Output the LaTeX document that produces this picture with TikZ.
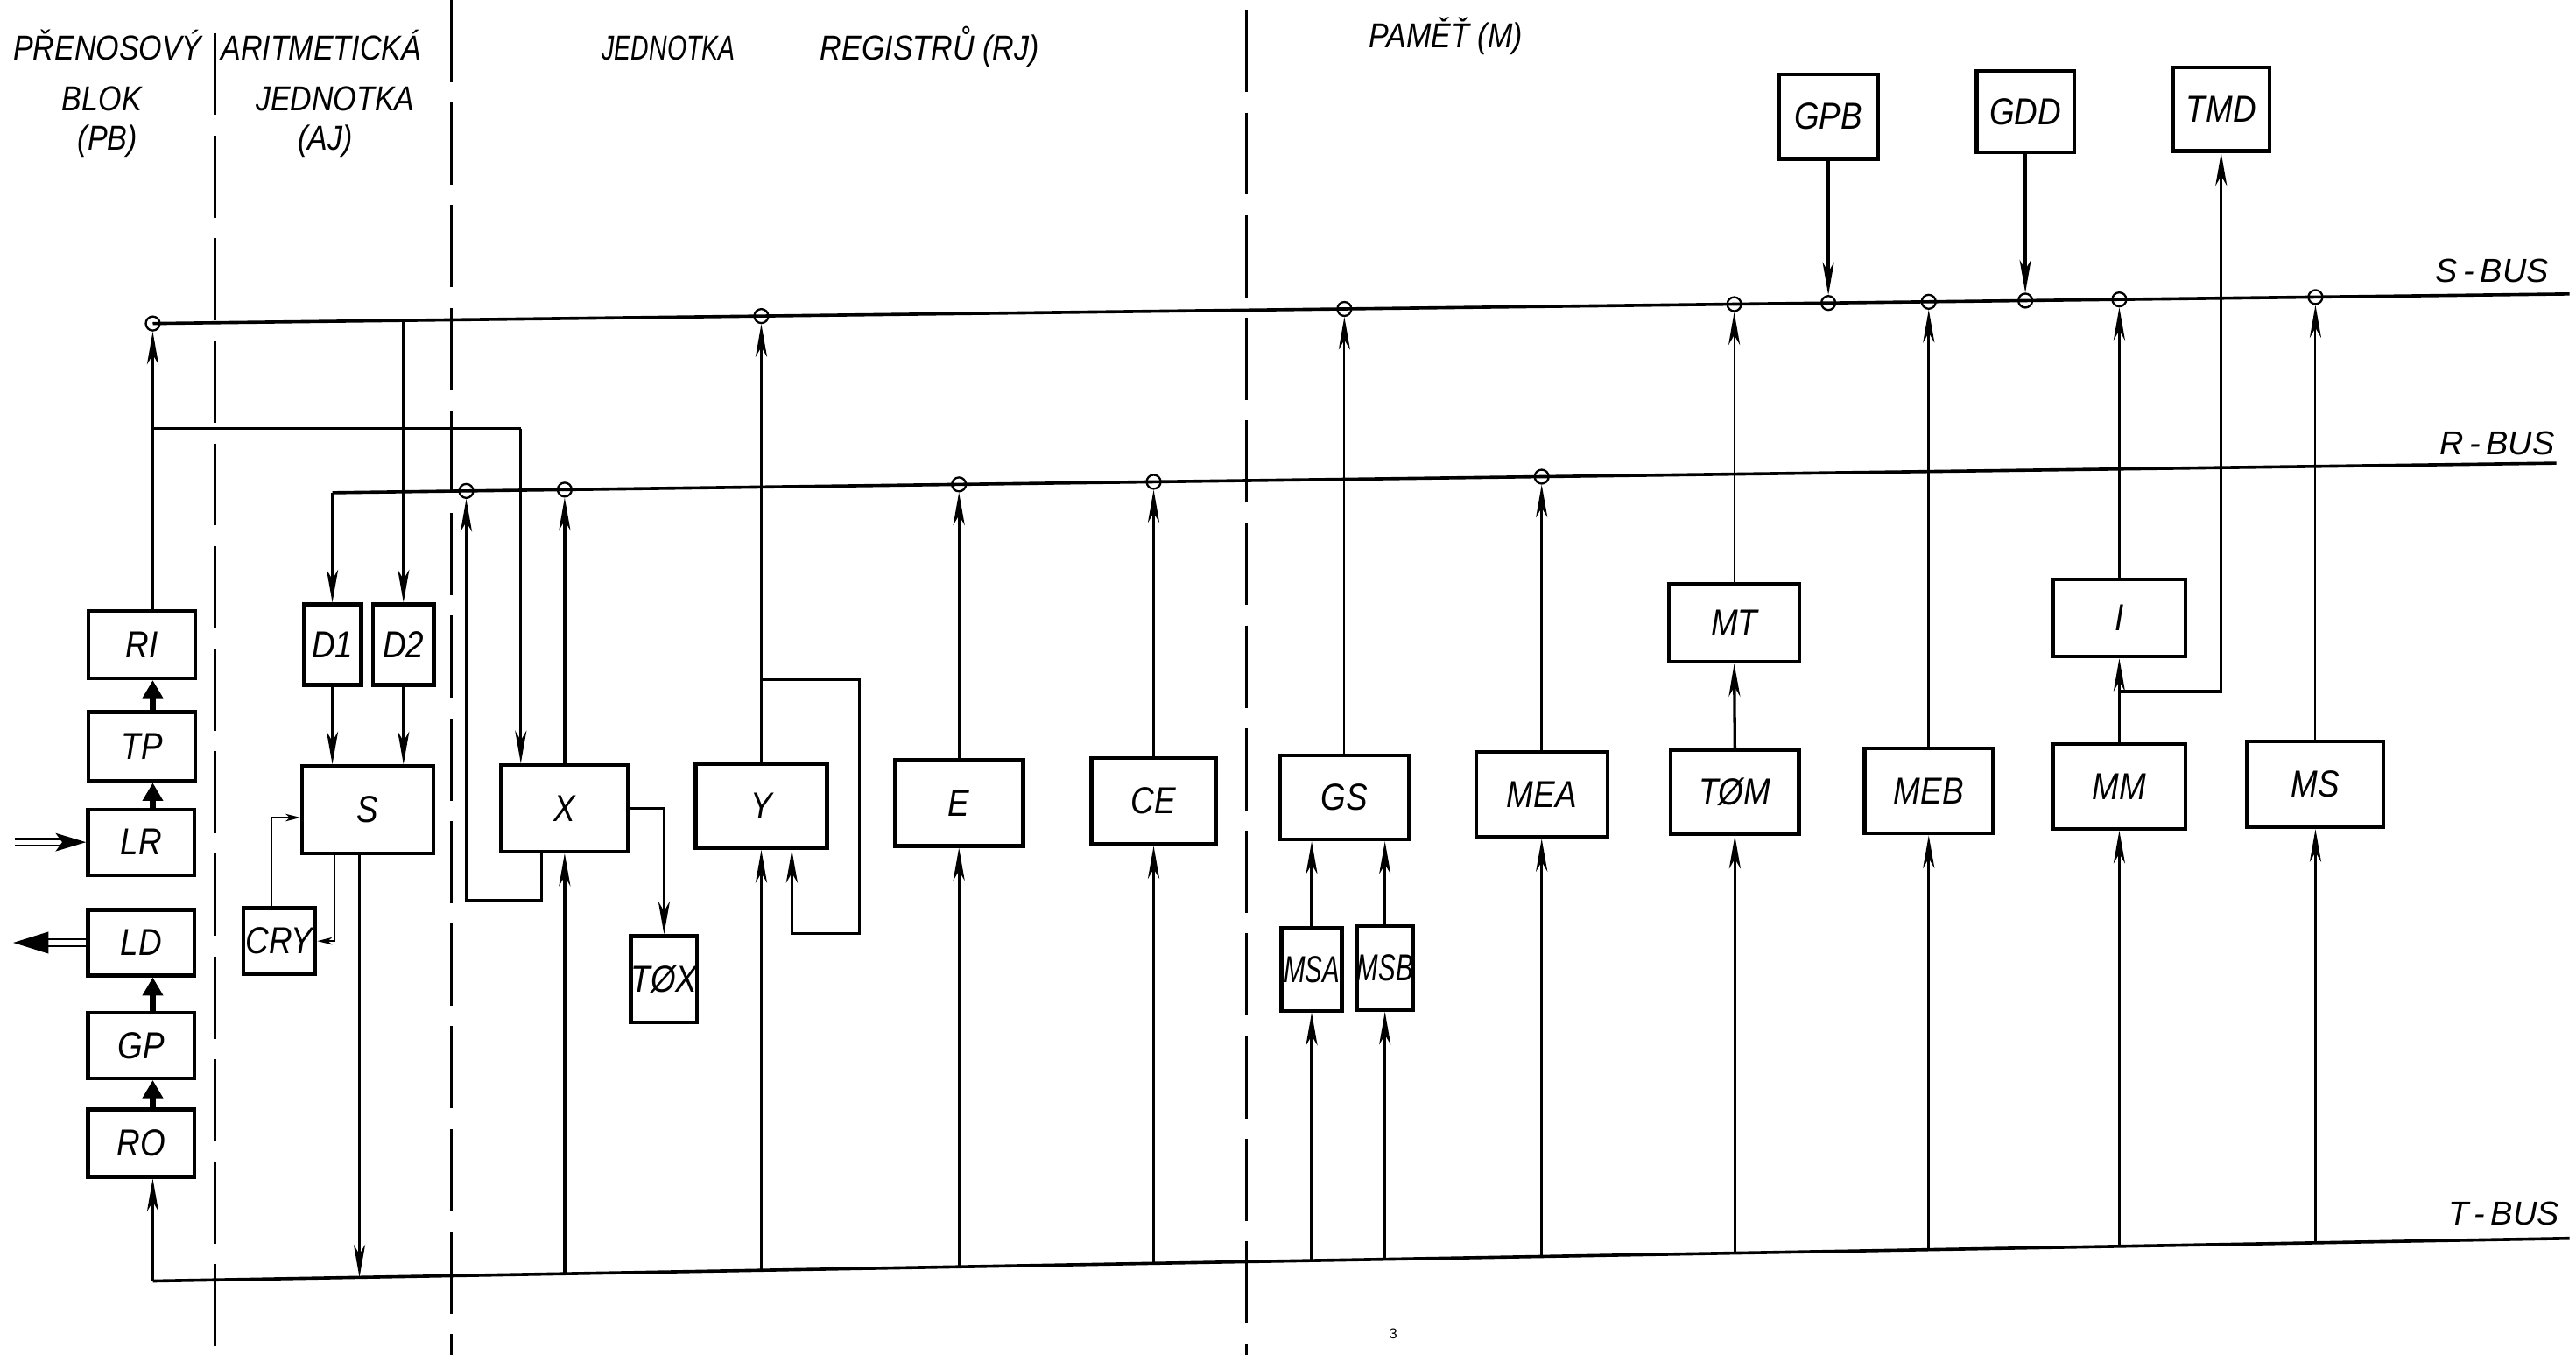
\documentclass[tikz,border=0pt]{standalone}
\usepackage{fontspec}
\setmainfont{Liberation Sans}
\newfontfamily\lblfont{Liberation Sans}[FakeStretch=0.86]
\newfontfamily\narrowfont{Liberation Sans}[FakeStretch=0.72]
\usetikzlibrary{arrows.meta,calc}
\newcommand{\onbus}[5]{\path let \p1=(#3), \p2=(#4), \p3=(#5) in (\x1,{(\y2)+((\x1)-(\x2))*(((\y3)-(\y2))/((\x3)-(\x2)))}) node[#1] (#2) {};}
\begin{document}
\begin{tikzpicture}[x=0.02cm,y=-0.02cm,
  bx/.style 2 args={draw, line width=1.3pt, inner sep=0pt, minimum width=#1*0.02cm, minimum height=#2*0.02cm, font=\lblfont\itshape\fontsize{13}{13}\selectfont},
  hdr/.style={anchor=base, inner sep=0pt, font=\lblfont\itshape\fontsize{12}{13}\selectfont},
  buslbl/.style={anchor=base, inner sep=0pt, font=\itshape\fontsize{11.5}{13}\selectfont},
  ln/.style={line width=1pt},
  arr/.style={line width=1pt, -{Stealth[length=0.4cm,width=0.14cm,inset=0.12cm]}},
  tarr/.style={line width=0.6pt, -{Stealth[length=0.4cm,width=0.14cm,inset=0.12cm]}},
  carr/.style={line width=0.6pt, -{Stealth[length=0.18cm,width=0.09cm,inset=0.05cm]}},
  bus/.style={line width=1.1pt},
  tap/.style={circle, draw, line width=0.7pt, minimum size=0.17cm, inner sep=0pt},
  sepl/.style={line width=0.9pt, dash pattern=on 1cm off 0.25cm},
  thk/.style={line width=2.2pt, -{Triangle[length=0.22cm,width=0.24cm]}},
  dblin/.style={double, double distance=1.6pt, line width=0.8pt, -{Stealth[length=0.37cm,width=0.22cm,inset=0.08cm]}},
  dblout/.style={double, double distance=1.6pt, line width=0.8pt, -{Triangle[length=0.43cm,width=0.26cm]}}
]
\fill[white] (0,0) rectangle (1568,825);
\useasboundingbox (0,0) rectangle (1568,825);

% ---------- headers ----------
\node[hdr] (h1) at (65.5,36.4) {PŘENOSOVÝ};
\node[hdr] (h2) at (62,67.5) {BLOK};
\node[hdr] (h3) at (65.5,91.5) {(PB)};
\node[hdr] (h4) at (195.5,36.4) {ARITMETICKÁ};
\node[hdr] (h5) at (204,67.5) {JEDNOTKA};
\node[hdr] (h6) at (198,91.5) {(AJ)};
\node[hdr, font=\narrowfont\itshape\fontsize{12}{13}\selectfont] (h7) at (407,36.4) {JEDNOTKA};
\node[hdr,anchor=base west] (h8) at (499,36.4) {REGISTRŮ\ (RJ)};
\node[hdr] (h9) at (880,29) {PAMĚŤ (M)};
\node[buslbl] (lbS) at (1517,172) {S\kern2pt-\kern2ptBUS};
\node[buslbl] (lbR) at (1520,277) {R\kern2pt-\kern2ptBUS};
\node[buslbl] (lbT) at (1524,746) {T\kern2pt-\kern2ptBUS};
\node[font=\fontsize{5}{5}\selectfont, inner sep=0pt] (pg) at (848,812) {3};

% ---------- separators ----------
\coordinate (d1a) at (131,20);   \coordinate (d1b) at (131,825);
\coordinate (d2a) at (274.7,0);  \coordinate (d2b) at (274.7,825);
\coordinate (d3a) at (758.5,6);  \coordinate (d3b) at (758.5,825);
\draw[sepl] (d1a) -- (d1b);
\draw[sepl] (d2a) -- (d2b);
\draw[sepl] (d3a) -- (d3b);

% ---------- boxes ----------
\node[bx={65}{41}] (RI) at (86.5,392.5) {RI};
\node[bx={65}{42}] (TP) at (86.5,454.5) {TP};
\node[bx={65}{40}] (LR) at (86,512.8) {LR};
\node[bx={65}{40}] (LD) at (86,574) {LD};
\node[bx={65}{40}] (GP) at (86,636.5) {GP};
\node[bx={65}{41}] (RO) at (86,696) {RO};
\node[bx={35}{49}] (D1) at (202.3,392.5) {D1};
\node[bx={37}{49}] (D2) at (245.6,392.5) {D2};
\node[bx={80}{53}] (S) at (224,493) {S};
\node[bx={44}{40}] (CRY) at (170,573) {CRY};
\node[bx={77.5}{52.5}] (X) at (343.7,492.2) {X};
\node[bx={40}{52.6}] (TOX) at (404.2,596.3) {TØX};
\node[bx={80}{51.4}] (Y) at (463.4,490.7) {Y};
\node[bx={78}{52.3}] (E) at (583.7,488.9) {E};
\node[bx={75.6}{52.4}] (CE) at (702.2,487.7) {CE};
\node[bx={78.5}{51}] (GS) at (818.3,485.6) {GS};
\node[bx={36.7}{50.4}] (MSA) at (798.4,590.2) {\scalebox{0.8}[1]{MSA}};
\node[bx={34}{51}] (MSB) at (843,589.4) {\scalebox{0.8}[1]{MSB}};
\node[bx={80}{51.7}] (MEA) at (938.4,483.7) {MEA};
\node[bx={79.6}{47.6}] (MT) at (1055.6,379.2) {MT};
\node[bx={78}{51}] (TOM) at (1056,482.3) {TØM};
\node[bx={78}{52}] (MEB) at (1174,481.5) {MEB};
\node[bx={80.8}{47}] (I) at (1290,376.3) {I};
\node[bx={80.8}{51.6}] (MM) at (1290,478.8) {MM};
\node[bx={83}{52.4}] (MS) at (1409.4,477.5) {MS};
\node[bx={60.3}{51.5}] (GPB) at (1112.9,71) {GPB};
\node[bx={59.2}{49.6}] (GDD) at (1232.8,68) {GDD};
\node[bx={58.7}{50.8}] (TMD) at (1352,66.6) {TMD};

% ---------- buses ----------
\coordinate (sL) at (93,197);    \coordinate (sR) at (1564,179);
\coordinate (rL) at (202.3,300); \coordinate (rR) at (1556,282);
\coordinate (tL) at (93,780);    \coordinate (tR) at (1564,754);
\coordinate (pb) at (93,0);
\draw[bus] (sL) -- (sR);
\draw[bus] (rL) -- (rR);
\draw[bus] (tL) -- (tR);

% S-bus taps
\node[tap] (tRI) at (sL) {};
\onbus{tap}{tY}{Y.north}{sL}{sR}
\onbus{tap}{tGS}{GS.north}{sL}{sR}
\onbus{tap}{tMT}{MT.north}{sL}{sR}
\onbus{tap}{tGPB}{GPB.south}{sL}{sR}
\onbus{tap}{tMEB}{MEB.north}{sL}{sR}
\onbus{tap}{tGDD}{GDD.south}{sL}{sR}
\onbus{tap}{tI}{I.north}{sL}{sR}
\onbus{tap}{tMS}{MS.north}{sL}{sR}
\onbus{coordinate}{pD2}{D2.north}{sL}{sR}
% R-bus taps
\coordinate (xl1) at (329.7,548); \coordinate (xl2) at (283.8,548);
\onbus{tap}{tXL}{xl2}{rL}{rR}
\onbus{tap}{tX}{X.north}{rL}{rR}
\onbus{tap}{tE}{E.north}{rL}{rR}
\onbus{tap}{tCE}{CE.north}{rL}{rR}
\onbus{tap}{tMEA}{MEA.north}{rL}{rR}
% T-bus points
\coordinate (so) at (218.8,0);
\onbus{coordinate}{bS}{so}{tL}{tR}
\onbus{coordinate}{bX}{X.south}{tL}{tR}
\onbus{coordinate}{bY}{Y.south}{tL}{tR}
\onbus{coordinate}{bE}{E.south}{tL}{tR}
\onbus{coordinate}{bCE}{CE.south}{tL}{tR}
\onbus{coordinate}{bMSA}{MSA.south}{tL}{tR}
\onbus{coordinate}{bMSB}{MSB.south}{tL}{tR}
\onbus{coordinate}{bMEA}{MEA.south}{tL}{tR}
\onbus{coordinate}{bTOM}{TOM.south}{tL}{tR}
\onbus{coordinate}{bMEB}{MEB.south}{tL}{tR}
\onbus{coordinate}{bMM}{MM.south}{tL}{tR}
\onbus{coordinate}{bMS}{MS.south}{tL}{tR}

% ---------- PB ----------
\draw[arr] (RI.north -| pb) -- (tRI.south);
\draw[thk] (TP.north -| pb) -- (RI.south -| pb);
\draw[thk] (LR.north -| pb) -- (TP.south -| pb);
\draw[thk] (GP.north -| pb) -- (LD.south -| pb);
\draw[thk] (RO.north -| pb) -- (GP.south -| pb);
\draw[arr] (tL) -- (RO.south -| pb);
\coordinate (lrin) at (9,512.8);
\coordinate (ldout) at (8,574);
\draw[dblin] (lrin) -- (LR.west);
\draw[dblout] (LD.west) -- (ldout);
\coordinate (m1) at (93,261); \coordinate (m2) at (317,261);
\draw[ln] (m1) -- (m2);
\draw[arr] (m2) -- (m2 |- X.north);

% ---------- AJ ----------
\draw[arr] (rL) -- (D1.north);
\draw[arr] (pD2) -- (D2.north);
\draw[arr] (D1.south) -- (D1.south |- S.north);
\draw[arr] (D2.south) -- (D2.south |- S.north);
\coordinate (c1) at (203.4,573);
\coordinate (c2) at (165,497.8);
\draw[carr] (c1 |- S.south) -- (c1) -- (CRY.east);
\draw[carr] (c2 |- CRY.north) -- (c2) -- (c2 -| S.west);
\draw[arr] (bS |- S.south) -- (bS);

% ---------- RJ ----------
\draw[arr] (X.north) -- (tX.south);
\draw[arr] (xl1 |- X.south) -- (xl1) -- (xl2) -- (tXL.south);
\draw[arr] (X.east) -- (X.east -| TOX.north) -- (TOX.north);
\draw[arr] (bX) -- (X.south);
\draw[arr] (Y.north) -- (tY.south);
\coordinate (yl1) at (463.4,414); \coordinate (yl2) at (523,414);
\coordinate (yl3) at (523,568.4); \coordinate (yl4) at (482,568.4);
\draw[arr] (yl1) -- (yl2) -- (yl3) -- (yl4) -- (yl4 |- Y.south);
\draw[arr] (bY) -- (Y.south);
\draw[arr] (E.north) -- (tE.south);
\draw[arr] (bE) -- (E.south);
\draw[arr] (CE.north) -- (tCE.south);
\draw[arr] (bCE) -- (CE.south);

% ---------- M ----------
\draw[tarr] (GS.north) -- (tGS.south);
\draw[arr] (MSA.north) -- (MSA.north |- GS.south);
\draw[arr] (MSB.north) -- (MSB.north |- GS.south);
\draw[arr] (bMSA) -- (MSA.south);
\draw[arr] (bMSB) -- (MSB.south);
\draw[arr] (MEA.north) -- (tMEA.south);
\draw[arr] (bMEA) -- (MEA.south);
\draw[arr] (TOM.north) -- (MT.south);
\draw[tarr] (MT.north) -- (tMT.south);
\draw[arr] (bTOM) -- (TOM.south);
\draw[arr] (MEB.north) -- (tMEB.south);
\draw[arr] (bMEB) -- (MEB.south);
\draw[arr] (MM.north) -- (I.south);
\coordinate (mj) at (1290,421);
\draw[arr] (mj) -- (mj -| TMD.south) -- (TMD.south);
\draw[arr] (I.north) -- (tI.south);
\draw[arr] (bMM) -- (MM.south);
\draw[tarr] (MS.north) -- (tMS.south);
\draw[arr] (bMS) -- (MS.south);
\draw[arr] (GPB.south) -- (tGPB.north);
\draw[arr] (GDD.south) -- (tGDD.north);
\end{tikzpicture}
\end{document}
